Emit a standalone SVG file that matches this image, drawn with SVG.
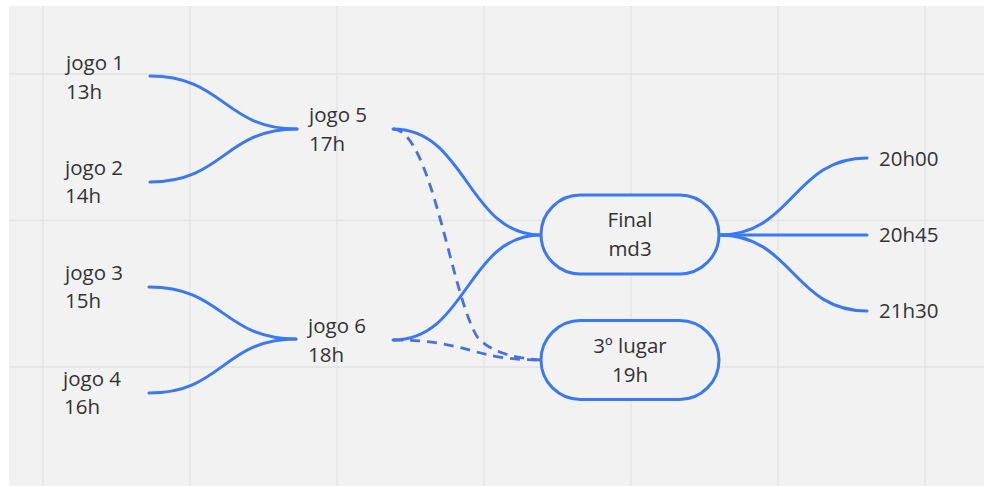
<svg xmlns="http://www.w3.org/2000/svg" width="984" height="486" viewBox="0 0 984 486">
<style>
.bg{fill:#f2f2f2}
.grid{stroke:#e4e4e4;stroke-width:1.3;fill:none}
.t{font-family:"Open Sans","Noto Sans","Liberation Sans",sans-serif;font-size:20.5px;fill:#333333}
.c{text-anchor:middle}
.e{fill:none;stroke:#3a78f5;stroke-width:3;stroke-linecap:round}
.d{fill:none;stroke:#4a6ee6;stroke-width:2.8;stroke-dasharray:10 7}
.n{fill:#f2f2f2;stroke:#3a78f5;stroke-width:3}
</style>
<rect width="984" height="486" fill="#ffffff"/>
<rect class="bg" x="9" y="6" width="975" height="480"/>
<g class="grid">
<path d="M43,6V486M190,6V486M337,6V486M484,6V486M631,6V486M778,6V486M925,6V486"/>
<path d="M9,74H984M9,220.5H984M9,367H984"/>
</g>
<g id="connectors">
<path class="e" d="M150,76 C224,76 224,129 297,129"/>
<path class="e" d="M150,182 C224,182 224,129 297,129"/>
<path class="e" d="M149,287 C223,287 223,339 296,339"/>
<path class="e" d="M149,393 C223,393 223,339 296,339"/>
<path class="e" d="M393,129 C467,129 467,235 541,235"/>
<path class="e" d="M393,340 C467,340 467,235 541,235"/>
<path class="e" d="M719,235 C793,235 793,158 867,158"/>
<path class="e" d="M719,235 H867"/>
<path class="e" d="M719,235 C793,235 793,311 867,311"/>
<path class="d" d="M393,129 C432,130 452,300 478,338 C492,353 515,358 541,360"/>
<path class="d" d="M393,340 C470,340 470,360 541,360"/>
</g>
<g id="jogo1"><text class="t" x="66" y="70">jogo 1</text><text class="t" x="66" y="99">13h</text></g>
<g id="jogo2"><text class="t" x="65" y="175">jogo 2</text><text class="t" x="65" y="203">14h</text></g>
<g id="jogo3"><text class="t" x="65" y="280">jogo 3</text><text class="t" x="65" y="308">15h</text></g>
<g id="jogo4"><text class="t" x="63" y="386">jogo 4</text><text class="t" x="64" y="414">16h</text></g>
<g id="jogo5"><text class="t" x="309" y="122">jogo 5</text><text class="t" x="309" y="151">17h</text></g>
<g id="jogo6"><text class="t" x="308" y="333">jogo 6</text><text class="t" x="308" y="362">18h</text></g>
<g id="final"><rect class="n" x="541" y="195" width="178" height="79" rx="39.5"/><text class="t c" x="630" y="227">Final</text><text class="t c" x="630" y="256">md3</text></g>
<g id="terceiro"><rect class="n" x="541" y="320.5" width="178" height="79" rx="39.5"/><text class="t c" x="630" y="353">3º lugar</text><text class="t c" x="630" y="382">19h</text></g>
<g id="h2000"><text class="t" x="879" y="166">20h00</text></g>
<g id="h2045"><text class="t" x="879" y="242">20h45</text></g>
<g id="h2130"><text class="t" x="879" y="318">21h30</text></g>
</svg>
